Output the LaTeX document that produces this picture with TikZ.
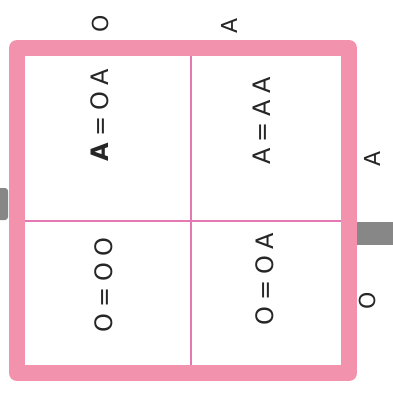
\documentclass[tikz,border=0pt]{standalone}
\usepackage{fontspec}
\setsansfont{DejaVu Sans}
\definecolor{pinkbd}{RGB}{242,146,172}
\definecolor{pinkin}{RGB}{228,120,178}
\definecolor{tabgray}{RGB}{135,135,135}
\tikzset{
  celltext/.style={rotate=90, font=\sffamily\fontsize{24}{26}\selectfont, text=black!85, inner sep=0pt},
  lbl/.style={rotate=90, font=\sffamily\fontsize{22}{24}\selectfont, text=black!85, inner sep=0pt},
}
\newcommand{\gsp}{\hspace{6pt}}
\begin{document}
\begin{tikzpicture}[x=1pt,y=-1pt]
\useasboundingbox (0,0) rectangle (393,392);
\fill[white] (0,0) rectangle (393,392);
% gray tabs
\fill[tabgray, rounded corners=3pt] (-5,188) rectangle (8,220);
\fill[tabgray] (345,222) rectangle (393,245);
% inner dividers
\draw[pinkin, line width=2.5pt] (191,52) -- (191,368);
\draw[pinkin, line width=2.5pt] (22,221) -- (345,221);
% outer border
\draw[pinkbd, line width=16pt, line join=round] (17,48) rectangle (349,373);
% axis labels
\node[lbl] (t1) at (100,24) {O};
\node[lbl] (t2) at (229,26) {A};
\node[lbl] (r1) at (372,159) {A};
\node[lbl] (r2) at (367,301) {O};
% cell texts
\node[celltext] (c1) at (100,115) {\textbf{A}\gsp=\gsp O\gsp A};
\node[celltext] (c2) at (262,121) {A\gsp=\gsp A\gsp A};
\node[celltext] (c3) at (104,285) {O\gsp=\gsp O\gsp O};
\node[celltext] (c4) at (265,279) {O\gsp=\gsp O\gsp A};
\end{tikzpicture}
\end{document}
